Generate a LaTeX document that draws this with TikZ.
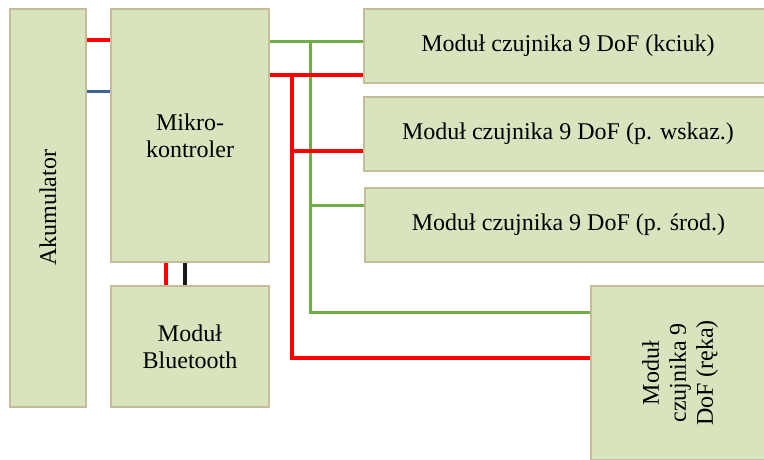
\documentclass[tikz,border=0pt]{standalone}
\usepackage{fontspec}
\setmainfont{Liberation Serif}
\usepackage{xcolor}
\usepackage{tikz}
\definecolor{blk-fill}{HTML}{D7E4BD}
\definecolor{blk-edge}{HTML}{C4BD97}
\definecolor{wire-red}{HTML}{FF0000}
\definecolor{wire-green}{HTML}{70AD47}
\definecolor{wire-blue}{HTML}{3C6496}
\definecolor{wire-black}{HTML}{1A1A1A}

\begin{document}
\begin{tikzpicture}[x=1pt, y=-1pt,
    blk/.style={draw=blk-edge, line width=2pt, fill=blk-fill, align=center,
                inner sep=0pt, font=\fontsize{24}{27}\selectfont},
    red/.style={wire-red, line width=3.5pt},
    green/.style={wire-green, line width=3pt},
    blue/.style={wire-blue, line width=3pt},
    black/.style={wire-black, line width=3.5pt},
  ]
    \useasboundingbox (0,0) rectangle (764,459);
    \clip (0,0) rectangle (764,459);

    % Power and controller
    \node[blk, minimum width=76pt, minimum height=398pt] (akku) at (48,208)
          {\rotatebox{90}{Akumulator}};
    \node[blk, minimum width=158pt, minimum height=253pt] (mcu) at (190,135.5)
          {Mikro-\\kontroler};
    \node[blk, minimum width=158pt, minimum height=121pt] (bt) at (190,346.5)
          {Moduł\\Bluetooth};

    % Sensor modules
    \node[blk, minimum width=408pt, minimum height=74pt] (kciuk) at (568,46)
          {Moduł czujnika 9 DoF (kciuk)};
    \node[blk, minimum width=408pt, minimum height=74pt] (wskaz) at (568,134)
          {Moduł czujnika 9 DoF (p. wskaz.)};
    \node[blk, minimum width=407pt, minimum height=74pt] (srod) at (568.5,225)
          {Moduł czujnika 9 DoF (p. środ.)};
    \node[blk, minimum width=179pt, minimum height=174pt] (reka) at (680.5,373)
          {\rotatebox{90}{\begin{tabular}{@{}c@{}}Moduł\\czujnika 9\\DoF (ręka)\end{tabular}}};

    % Wire levels
    \coordinate (vcc) at (0,40);
    \coordinate (gnd) at (0,91);
    \coordinate (btvcc) at (166,0);
    \coordinate (btgnd) at (185,0);
    \coordinate (gbus) at (310,41);
    \coordinate (rbus) at (292,75);

    % Battery -> controller
    \draw[red]  (akku.east |- vcc) -- (mcu.west |- vcc);
    \draw[blue] (akku.east |- gnd) -- (mcu.west |- gnd);

    % Controller -> Bluetooth
    \draw[red]   (mcu.south -| btvcc) -- (bt.north -| btvcc);
    \draw[black] (mcu.south -| btgnd) -- (bt.north -| btgnd);

    % Green bus
    \draw[green] (mcu.east |- gbus) -- (kciuk.west |- gbus);
    \draw[green] (gbus) |- (reka.west |- 0,312);
    \draw[green] (gbus |- 0,205) -- (srod.west |- 0,205);

    % Red bus
    \draw[red] (mcu.east |- rbus) -- (kciuk.west |- rbus);
    \draw[red] (rbus) |- (reka.west |- 0,358);
    \draw[red] (rbus |- 0,151) -- (wskaz.west |- 0,151);
  \end{tikzpicture}
\end{document}
